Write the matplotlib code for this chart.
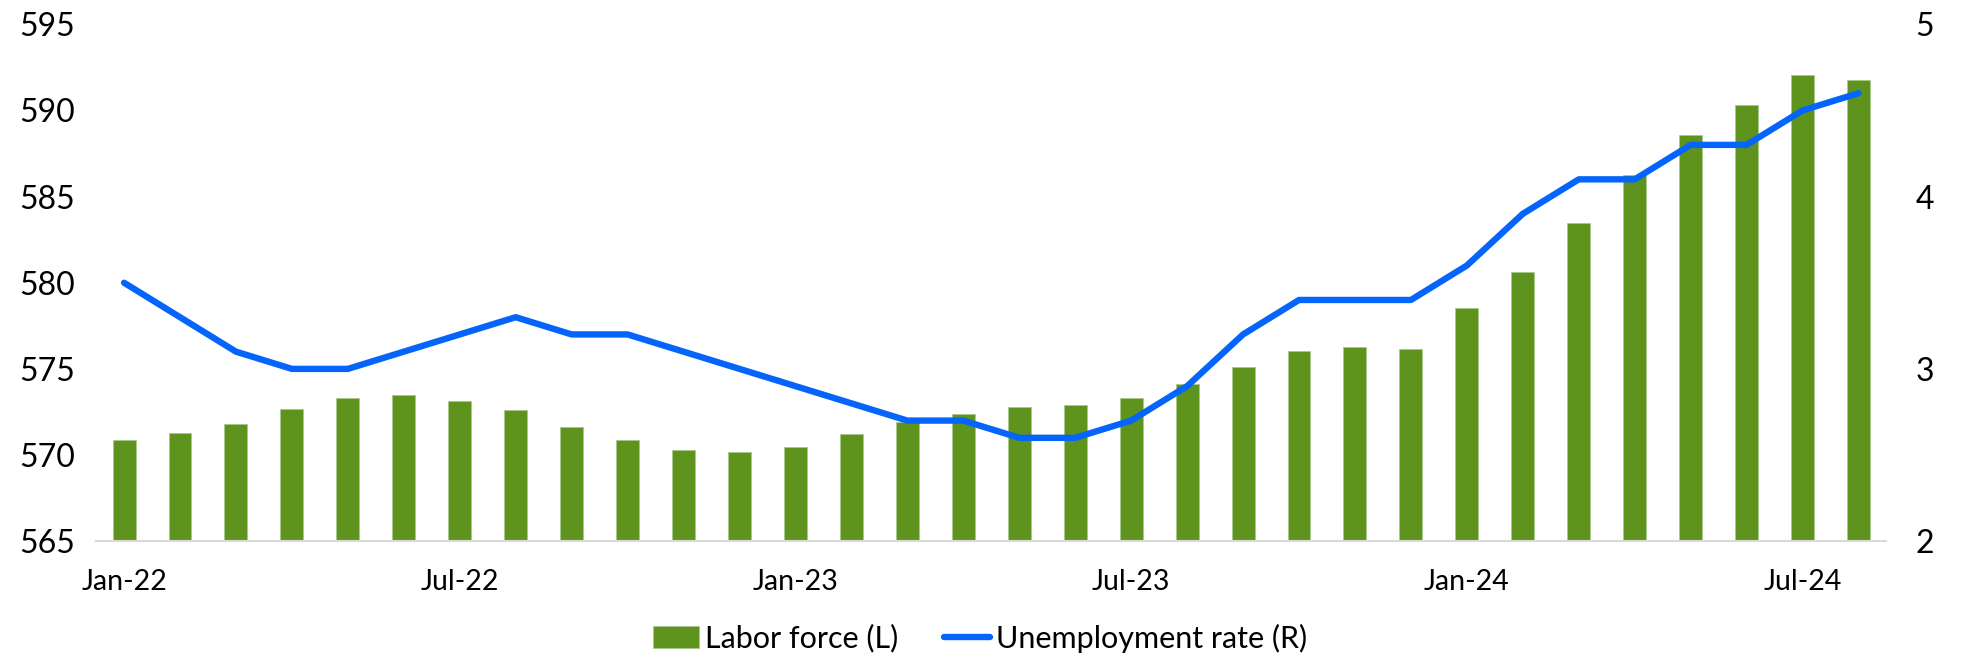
import numpy as np
import matplotlib
matplotlib.use("Agg")
import matplotlib.pyplot as plt

plt.rcParams['font.family'] = ['Lato', 'DejaVu Sans']

# Monthly data, Jan-22 .. Aug-24
labor_force = [570.85, 571.26, 571.82, 572.69, 573.30, 573.47, 573.11, 572.60,
               571.63, 570.90, 570.29, 570.15, 570.49, 571.21, 571.92, 572.38,
               572.77, 572.91, 573.30, 574.10, 575.10, 576.04, 576.26, 576.17,
               578.53, 580.62, 583.48, 586.25, 588.58, 590.33, 592.08, 591.79]
unemployment = [3.5, 3.3, 3.1, 3.0, 3.0, 3.1, 3.2, 3.3,
                3.2, 3.2, 3.1, 3.0, 2.9, 2.8, 2.7, 2.7,
                2.6, 2.6, 2.7, 2.9, 3.2, 3.4, 3.4, 3.4,
                3.6, 3.9, 4.1, 4.1, 4.3, 4.3, 4.5, 4.6]
tick_pos = [0, 6, 12, 18, 24, 30]
tick_labels = ['Jan-22', 'Jul-22', 'Jan-23', 'Jul-23', 'Jan-24', 'Jul-24']

GREEN = '#5E931E'
BLUE = '#0565FA'

x = np.arange(len(labor_force))

fig = plt.figure(figsize=(19.61, 6.56), dpi=100)
ax = fig.add_axes([0.049, 0.175, 0.913, 0.788])
ax2 = ax.twinx()

bars = ax.bar(x, np.array(labor_force) - 565, bottom=565, width=0.41,
              color=GREEN, edgecolor='#A9C98A', linewidth=0.6,
              label='Labor force (L)', zorder=2)
line, = ax2.plot(x, unemployment, color=BLUE, lw=4.6,
                 solid_capstyle='round', solid_joinstyle='round',
                 label='Unemployment rate (R)', zorder=3)

ax.set_xlim(-0.5, len(x) - 0.5)
ax.set_ylim(565, 595)
ax.set_yticks(np.arange(565, 596, 5))
ax2.set_ylim(2, 5)
ax2.set_yticks([2, 3, 4, 5])

ax.set_xticks(tick_pos)
ax.set_xticklabels(tick_labels)

for a in (ax, ax2):
    for s in a.spines.values():
        s.set_visible(False)
    a.tick_params(length=0)
ax.spines['bottom'].set_visible(True)
ax.spines['bottom'].set_color('#D9D9D9')
ax.spines['bottom'].set_linewidth(1.5)

ax.tick_params(axis='y', labelsize=23, pad=15)
ax2.tick_params(axis='y', labelsize=23, pad=21)
ax.tick_params(axis='x', labelsize=20.5, pad=20)

fig.legend([bars, line], ['Labor force (L)', 'Unemployment rate (R)'],
           loc='center', bbox_to_anchor=(0.5, 0.027), ncol=2, frameon=False,
           fontsize=22, handlelength=1.5, handletextpad=0.2,
           columnspacing=1.5, handleheight=0.75)

fig.savefig('out.png', dpi=100)
